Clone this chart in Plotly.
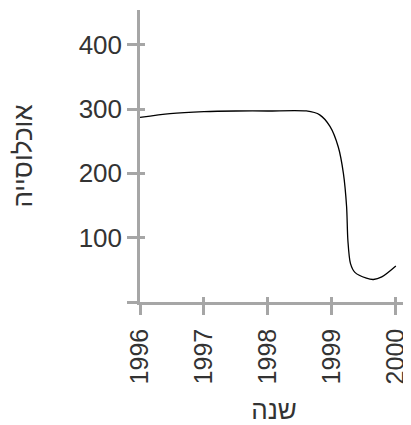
import plotly.graph_objects as go

years = [1996, 1996.47, 1997, 1997.5, 1998, 1998.6, 1998.81, 1998.97, 1999.1, 1999.18,
         1999.23, 1999.25, 1999.29, 1999.36, 1999.54, 1999.65, 1999.78, 2000]
population = [287, 293, 296, 297, 297, 297, 291, 273, 241, 200,
              148, 96, 60, 46, 37, 35, 39, 56]
x_ticks = [1996, 1997, 1998, 1999, 2000]
y_ticks = [0, 100, 200, 300, 400]
y_tick_text = ["", "100", "200", "300", "400"]

AX = "#a6a6a6"
FONT = "Liberation Sans, Arial, sans-serif"
XR = [1996, 2000.19]
YR = [0, 454]

fig = go.Figure()
fig.add_trace(go.Scatter(x=years, y=population, mode="lines",
                         line=dict(color="black", width=1.3, shape="spline", smoothing=0.8),
                         hoverinfo="skip", showlegend=False))
fig.add_trace(go.Scatter(x=[], y=[], xaxis="x2", yaxis="y2", showlegend=False))

common = dict(showgrid=False, zeroline=False, showline=True, linecolor=AX, linewidth=2.5,
              tickcolor=AX, tickwidth=2.5, automargin=False)
fig.update_layout(
    width=403, height=417,
    margin=dict(l=132, r=3, t=2, b=123),
    paper_bgcolor="white", plot_bgcolor="white",
    font=dict(family=FONT, color="#333333", size=26),
    xaxis=dict(range=XR, tickvals=x_ticks, ticks="outside", ticklen=10, tickangle=-90,
               tickfont=dict(size=25), ticklabelstandoff=4,
               title=dict(text="שנה", standoff=24, font=dict(size=26)), **common),
    yaxis=dict(range=YR, tickvals=y_ticks, ticktext=y_tick_text, ticks="outside", ticklen=10,
               tickfont=dict(size=26),
               title=dict(text="אוכלוסייה", standoff=45, font=dict(size=26)), **common),
    xaxis2=dict(range=XR, tickvals=x_ticks, ticks="inside", ticklen=5, showticklabels=False,
                overlaying="x", anchor="y2", **common),
    yaxis2=dict(range=YR, tickvals=y_ticks, ticks="inside", ticklen=5, showticklabels=False,
                overlaying="y", anchor="x2", **common),
)
fig.write_html("out.html")
